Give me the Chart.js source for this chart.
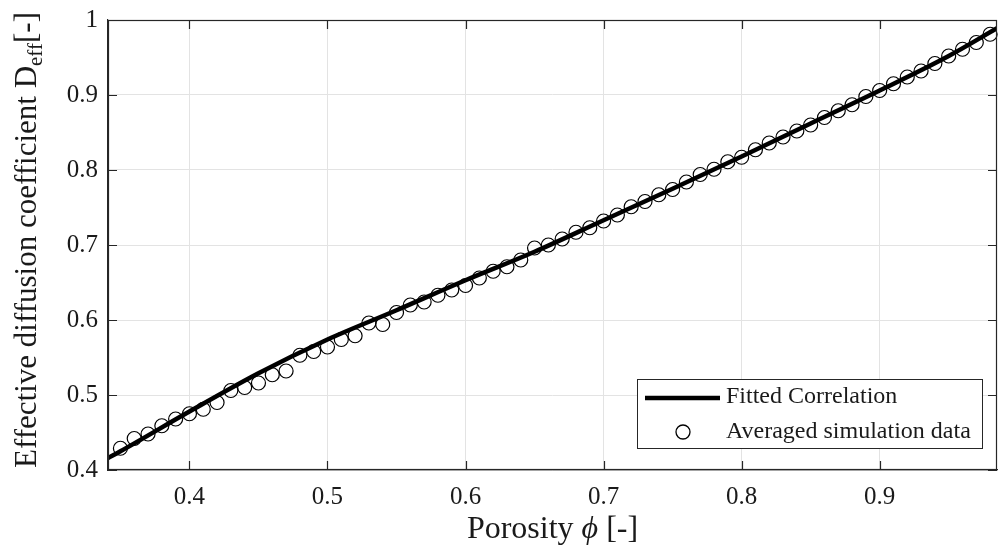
<!DOCTYPE html>
<html><head><meta charset="utf-8">
<script src="https://cdn.jsdelivr.net/npm/chart.js@4"></script>
<style>html,body{margin:0;padding:0;background:#fff}canvas{display:block}</style>
</head><body>
<canvas id="c" width="998" height="547" style="width:998px;height:547px"></canvas>
<script>
// ---- data ----
const porosity = [0.35,0.36,0.37,0.38,0.39,0.40,0.41,0.42,0.43,0.44,0.45,0.46,0.47,0.48,0.49,0.50,
  0.51,0.52,0.53,0.54,0.55,0.56,0.57,0.58,0.59,0.60,0.61,0.62,0.63,0.64,0.65,0.66,0.67,0.68,0.69,0.70,
  0.71,0.72,0.73,0.74,0.75,0.76,0.77,0.78,0.79,0.80,0.81,0.82,0.83,0.84,0.85,0.86,0.87,0.88,0.89,0.90,
  0.91,0.92,0.93,0.94,0.95,0.96,0.97,0.98];
const simData = [0.429,0.442,0.448,0.459,0.468,0.475,0.481,0.490,0.506,0.510,0.516,0.527,0.532,0.553,0.558,0.564,
  0.574,0.579,0.596,0.594,0.610,0.620,0.624,0.633,0.640,0.646,0.656,0.665,0.671,0.680,0.696,0.700,0.708,0.717,0.723,0.732,
  0.740,0.751,0.758,0.767,0.774,0.784,0.794,0.801,0.811,0.817,0.827,0.836,0.844,0.852,0.860,0.870,0.879,0.887,0.898,0.906,
  0.915,0.924,0.932,0.942,0.952,0.961,0.970,0.981];
const fitPorosity = [0.341,0.35,0.40,0.45,0.50,0.55,0.60,0.65,0.70,0.75,0.80,0.85,0.90,0.95,0.985];
const fitValues   = [0.416,0.425,0.478,0.529,0.574,0.613,0.653,0.691,0.733,0.775,0.818,0.862,0.906,0.952,0.989];
const xTicks = [0.4,0.5,0.6,0.7,0.8,0.9];
const yTicks = [0.4,0.5,0.6,0.7,0.8,0.9,1];
const xRange = [0.341,0.985];
const yRange = [0.4,1];
const seriesLabels = ['Fitted Correlation','Averaged simulation data'];

const SERIF = '"Liberation Serif","DejaVu Serif",serif';
const AX = '#262626';
const TXT = '#1a1a1a';

const fitPts = fitPorosity.map((x,i)=>({x, y: fitValues[i]}));
const simPts = porosity.map((x,i)=>({x, y: simData[i]}));

const decor = {
  id:'decor',
  afterDraw(chart){
    const {ctx, chartArea:a, scales:{x, y}} = chart;
    ctx.save();
    // box
    ctx.strokeStyle = AX; ctx.lineWidth = 1.2;
    ctx.strokeRect(a.left+0.5, a.top+0.5, a.right-a.left-1, a.bottom-a.top-1);
    // inner ticks
    const tl = 9;
    ctx.beginPath();
    xTicks.forEach(v=>{const px=Math.round(x.getPixelForValue(v))+0.5;
      ctx.moveTo(px,a.bottom); ctx.lineTo(px,a.bottom-tl);
      ctx.moveTo(px,a.top); ctx.lineTo(px,a.top+tl);});
    yTicks.forEach(v=>{const py=Math.round(y.getPixelForValue(v))+0.5;
      ctx.moveTo(a.left,py); ctx.lineTo(a.left+tl,py);
      ctx.moveTo(a.right,py); ctx.lineTo(a.right-tl,py);});
    ctx.stroke();

    // x title
    ctx.fillStyle = TXT;
    ctx.textBaseline = 'alphabetic';
    const fs = 32;
    const p1 = 'Porosity ', p2 = 'ϕ', p3 = ' [-]';
    ctx.font = fs+'px '+SERIF; const w1 = ctx.measureText(p1).width, w3 = ctx.measureText(p3).width;
    ctx.font = 'italic '+fs+'px '+SERIF; const w2 = ctx.measureText(p2).width;
    let sx = (a.left+a.right)/2 - (w1+w2+w3)/2; const ty = 538;
    ctx.textAlign='left';
    ctx.font = fs+'px '+SERIF; ctx.fillText(p1, sx, ty); sx+=w1;
    ctx.font = 'italic '+fs+'px '+SERIF; ctx.fillText(p2, sx, ty); sx+=w2;
    ctx.font = fs+'px '+SERIF; ctx.fillText(p3, sx, ty);

    // y title (rotated)
    ctx.save();
    ctx.translate(0, (a.top+a.bottom)/2 - 5);
    ctx.rotate(-Math.PI/2);
    const q1='Effective diffusion coefficient D', q2='eff', q3='[-]';
    const yfs = 31, sfs = 21;
    ctx.font = yfs+'px '+SERIF; const v1=ctx.measureText(q1).width, v3=ctx.measureText(q3).width;
    ctx.font = sfs+'px '+SERIF; const v2=ctx.measureText(q2).width;
    let s = -(v1+v2+v3)/2;
    ctx.font = yfs+'px '+SERIF; ctx.fillText(q1, s, 36); s+=v1;
    ctx.font = sfs+'px '+SERIF; ctx.fillText(q2, s, 42); s+=v2;
    ctx.font = yfs+'px '+SERIF; ctx.fillText(q3, s, 36);
    ctx.restore();

    // legend
    const L = {x:637.5, y:379.5, w:345, h:69};
    ctx.fillStyle='#fff'; ctx.fillRect(L.x,L.y,L.w,L.h);
    ctx.strokeStyle=AX; ctx.lineWidth=1; ctx.strokeRect(L.x,L.y,L.w,L.h);
    ctx.strokeStyle='#000'; ctx.lineWidth=4.5;
    ctx.beginPath(); ctx.moveTo(645,398); ctx.lineTo(720,398); ctx.stroke();
    ctx.lineWidth=1.3; ctx.beginPath(); ctx.arc(683,432,7,0,Math.PI*2); ctx.stroke();
    ctx.fillStyle=TXT; ctx.font='24px '+SERIF; ctx.textAlign='left'; ctx.textBaseline='middle';
    ctx.fillText(seriesLabels[0], 726, 397);
    ctx.fillText(seriesLabels[1], 726, 432);
    ctx.restore();
  }
};

const noPad = s => { s.paddingTop = 0; s.paddingBottom = 0; s.paddingLeft = 0; s.paddingRight = 0; };

new Chart(document.getElementById('c'), {
  type:'scatter',
  data:{datasets:[
    {label:seriesLabels[0], data:fitPts, showLine:true, borderColor:'#000', borderWidth:4.5,
     pointRadius:0, cubicInterpolationMode:'monotone', order:0},
    {label:seriesLabels[1], data:simPts, showLine:false, pointRadius:7, pointBorderWidth:1.2,
     pointBorderColor:'#000', pointBackgroundColor:'rgba(0,0,0,0)', borderColor:'#000', order:1, clip:false}
  ]},
  options:{
    responsive:false, animation:false, devicePixelRatio:1,
    layout:{autoPadding:false, padding:{top:20,right:1,left:0,bottom:0}},
    plugins:{legend:{display:false}, tooltip:{enabled:false}},
    scales:{
      x:{type:'linear', min:xRange[0], max:xRange[1],
        afterBuildTicks:s=>{s.ticks = xTicks.map(v=>({value:v}));},
        afterFit:s=>{s.height=77; noPad(s);},
        ticks:{callback:v=>v.toFixed(1), color:TXT, font:{family:SERIF,size:25}, padding:12, maxRotation:0},
        grid:{color:'#e3e3e3', drawTicks:false, lineWidth:1},
        border:{display:true, color:AX, width:1.2}},
      y:{type:'linear', min:yRange[0], max:yRange[1],
        afterBuildTicks:s=>{s.ticks = yTicks.map(v=>({value:v}));},
        afterFit:s=>{s.width=108; noPad(s);},
        ticks:{callback:v=>v===1?'1':v.toFixed(1), color:TXT, font:{family:SERIF,size:25}, padding:10},
        grid:{color:'#e3e3e3', drawTicks:false, lineWidth:1},
        border:{display:true, color:AX, width:1.2}}
    }
  },
  plugins:[decor]
});
</script>
</body></html>
